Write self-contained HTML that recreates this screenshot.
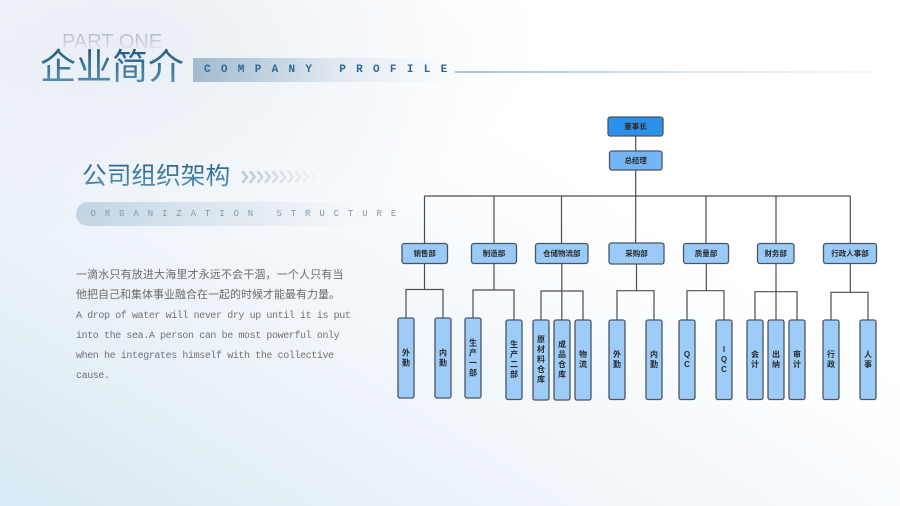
<!DOCTYPE html>
<html><head><meta charset="utf-8">
<style>
html,body{margin:0;padding:0;}
body{width:900px;height:506px;overflow:hidden;position:relative;font-family:"Liberation Sans","Noto Sans CJK SC",sans-serif;
background:linear-gradient(32deg,#d9e8f3 0%,#eaf2f8 25%,#f7fafd 48%,#ffffff 65%,#ffffff 100%);}
.abs{position:absolute;white-space:nowrap;}
#tl{position:absolute;left:0;top:0;width:900px;height:506px;background:radial-gradient(ellipse 420px 200px at 120px 40px,rgba(228,235,242,0.8),rgba(255,255,255,0) 100%);}
.streak{position:absolute;width:60px;height:700px;background:linear-gradient(to right,rgba(255,255,255,0),rgba(255,255,255,0.55),rgba(255,255,255,0));transform:rotate(-40deg);}
.grad{background:linear-gradient(to bottom,#1f5a85,#5990b6);-webkit-background-clip:text;background-clip:text;color:transparent;}
</style></head><body>
<div id="tl"></div>
<div class="streak" style="left:520px;top:-250px;"></div>
<div class="streak" style="left:600px;top:-260px;width:40px;"></div>

<div class="abs" style="left:62px;top:32px;font-size:20px;line-height:20px;font-family:'Liberation Sans',sans-serif;background:linear-gradient(to bottom,#b4bbc4 0%,#ccd2d9 55%,rgba(235,239,243,0.3) 100%);-webkit-background-clip:text;background-clip:text;color:transparent;">PART ONE</div>

<div class="abs grad" style="left:40px;top:48px;font-size:36px;line-height:37px;font-family:'Liberation Sans','Noto Sans CJK SC',sans-serif;">企业简介</div>

<div class="abs" style="left:193px;top:58px;width:270px;height:24px;background:linear-gradient(to right,#a2bbcf 0%,#c4d4e1 30%,#e2eaf1 55%,rgba(240,244,248,0.6) 80%,rgba(255,255,255,0) 100%);"></div>
<div class="abs" style="left:204px;top:64px;font-family:'Liberation Mono',monospace;font-size:11px;line-height:12px;letter-spacing:10.3px;color:#2a6896;font-weight:bold;">COMPANY PROFILE</div>
<div class="abs" style="left:455px;top:71px;width:418px;height:2px;background:linear-gradient(to right,#a9c3d6,#d5e2ec 50%,rgba(230,238,244,0.3));"></div>

<div class="abs grad" style="left:82px;top:163.5px;font-size:24.7px;line-height:25px;font-family:'Liberation Sans','Noto Sans CJK SC',sans-serif;background:linear-gradient(to bottom,#2a6690,#5d94ba);-webkit-background-clip:text;background-clip:text;">公司组织架构</div>

<svg class="abs" style="left:240px;top:168px;" width="90" height="18">
<g fill="none" stroke-width="2.6" stroke-linecap="round" stroke-linejoin="round">
<polyline points="3,4 7,9 3,14" stroke="#b9cbd9"/>
<polyline points="10.6,4 14.6,9 10.6,14" stroke="#bfcfdc"/>
<polyline points="18.2,4 22.2,9 18.2,14" stroke="#c6d4e0"/>
<polyline points="25.8,4 29.8,9 25.8,14" stroke="#ccd9e3"/>
<polyline points="33.4,4 37.4,9 33.4,14" stroke="#d3dee7"/>
<polyline points="41,4 45,9 41,14" stroke="#d9e2ea"/>
<polyline points="48.6,4 52.6,9 48.6,14" stroke="#dfe7ee"/>
<polyline points="56.2,4 60.2,9 56.2,14" stroke="#e5ebf1"/>
<polyline points="63.8,4 67.8,9 63.8,14" stroke="#eaeff4"/>
<polyline points="71.4,4 75.4,9 71.4,14" stroke="#eff3f7"/>
</g></svg>

<div class="abs" style="left:76px;top:202px;width:330px;height:24px;border-radius:12px 0 0 12px;background:linear-gradient(to right,#c2d4e2 0%,#d6e2ec 30%,#e7eef4 60%,rgba(245,248,251,0.5) 85%,rgba(255,255,255,0) 100%);"></div>
<div class="abs" style="left:90.5px;top:209px;font-family:'Liberation Mono',monospace;font-size:9px;line-height:10px;letter-spacing:8.9px;color:#7f98ac;">ORGANIZATION STRUCTURE</div>

<div class="abs" style="left:76px;top:265px;font-size:11px;line-height:20px;letter-spacing:0.15px;color:#6a6a6a;font-family:'Liberation Sans','Noto Sans CJK SC',sans-serif;">一滴水只有放进大海里才永远不会干涸，一个人只有当</div>
<div class="abs" style="left:76px;top:285px;font-size:11px;line-height:20px;letter-spacing:0px;color:#6a6a6a;font-family:'Liberation Sans','Noto Sans CJK SC',sans-serif;">他把自己和集体事业融合在一起的时候才能最有力量。</div>
<div class="abs" style="left:76px;top:306.5px;font-family:'Liberation Mono',monospace;font-size:10px;line-height:20.3px;letter-spacing:-0.4px;color:#727272;">A drop of water will never dry up until it is put<br>into the sea.A person can be most powerful only<br>when he integrates himself with the collective<br>cause.</div>

<svg class="abs" style="left:0;top:0;" width="900" height="506" font-family="'Liberation Sans','Noto Sans CJK SC',sans-serif">
<g stroke="#4d4d4d" stroke-width="1.2" fill="none">
<line x1="635.7" y1="136" x2="635.7" y2="151"/>
<line x1="635.7" y1="170" x2="635.7" y2="196"/>
<line x1="424.5" y1="196" x2="850.3" y2="196"/>
<line x1="424.5" y1="196" x2="424.5" y2="243.5"/>
<line x1="494" y1="196" x2="494" y2="243.5"/>
<line x1="561.5" y1="196" x2="561.5" y2="243.5"/>
<line x1="635.7" y1="196" x2="635.7" y2="243"/>
<line x1="706" y1="196" x2="706" y2="243.5"/>
<line x1="776" y1="196" x2="776" y2="243.5"/>
<line x1="850.3" y1="196" x2="850.3" y2="243.5"/>
<polyline points="424.5,263.5 424.5,289.5"/>
<polyline points="406,318 406,289.5 443,289.5 443,318"/>
<polyline points="494,263.5 494,290"/>
<polyline points="473,318 473,290 514,290 514,320"/>
<polyline points="561.8,263.5 561.8,320"/>
<polyline points="541,320 541,291 583,291 583,320"/>
<polyline points="636.5,264 636.5,290.7"/>
<polyline points="617,320 617,290.7 654,290.7 654,320"/>
<polyline points="706.3,263.5 706.3,290.7"/>
<polyline points="687,320 687,290.7 724,290.7 724,320"/>
<polyline points="776,263.5 776,320"/>
<polyline points="755,320 755,291.7 797,291.7 797,320"/>
<polyline points="850.3,263.5 850.3,292.3"/>
<polyline points="831,320 831,292.3 868,292.3 868,320"/>
</g>
<g stroke="#4a5561" stroke-width="1.3">
<rect x="608" y="117" width="55" height="19" rx="2.5" fill="#2a90ea"/>
<rect x="609.5" y="151" width="52.5" height="19" rx="2.5" fill="#74b6f5"/>
<rect x="402" y="243.5" width="45.5" height="20" rx="2.5" fill="#9acaf8"/>
<rect x="471.5" y="243.5" width="45" height="20" rx="2.5" fill="#9acaf8"/>
<rect x="535.5" y="243.5" width="52.5" height="20" rx="2.5" fill="#9acaf8"/>
<rect x="609" y="243" width="55" height="21" rx="2.5" fill="#9acaf8"/>
<rect x="683.5" y="243.5" width="45" height="20" rx="2.5" fill="#9acaf8"/>
<rect x="757.5" y="243.5" width="36.5" height="20" rx="2.5" fill="#9acaf8"/>
<rect x="823.5" y="243.5" width="53" height="20" rx="2.5" fill="#9acaf8"/>
<rect x="398" y="318" width="16" height="80" rx="2" fill="#9dccf8"/>
<rect x="435" y="318" width="16" height="80" rx="2" fill="#9dccf8"/>
<rect x="465" y="318" width="16" height="80" rx="2" fill="#9dccf8"/>
<rect x="506" y="320" width="16" height="79.5" rx="2" fill="#9dccf8"/>
<rect x="533" y="320" width="16" height="80" rx="2" fill="#9dccf8"/>
<rect x="554" y="320" width="16" height="80" rx="2" fill="#9dccf8"/>
<rect x="575" y="320" width="16" height="80" rx="2" fill="#9dccf8"/>
<rect x="609" y="320" width="16" height="79.5" rx="2" fill="#9dccf8"/>
<rect x="646" y="320" width="16" height="79.5" rx="2" fill="#9dccf8"/>
<rect x="679" y="320" width="16" height="79.5" rx="2" fill="#9dccf8"/>
<rect x="716" y="320" width="16" height="79.5" rx="2" fill="#9dccf8"/>
<rect x="747" y="320" width="16" height="79.5" rx="2" fill="#9dccf8"/>
<rect x="768" y="320" width="16" height="79.5" rx="2" fill="#9dccf8"/>
<rect x="789" y="320" width="16" height="79.5" rx="2" fill="#9dccf8"/>
<rect x="823" y="320" width="16" height="79.5" rx="2" fill="#9dccf8"/>
<rect x="860" y="320" width="16" height="79.5" rx="2" fill="#9dccf8"/>
</g>
<g font-size="7.5" font-weight="bold" fill="#2b2b2b" text-anchor="middle" dominant-baseline="central">
<text x="635.5" y="126.5">董事长</text>
<text x="635.7" y="160.5">总经理</text>
<text x="424.7" y="253.5">销售部</text>
<text x="494" y="253.5">制造部</text>
<text x="561.8" y="253.5">仓储物流部</text>
<text x="636.5" y="253.5">采购部</text>
<text x="706" y="253.5">质量部</text>
<text x="775.7" y="253.5">财务部</text>
<text x="850" y="253.5">行政人事部</text>
</g>
<g font-size="8" font-weight="bold" fill="#2b2b2b" text-anchor="middle" dominant-baseline="central">
<text x="406" y="353">外</text><text x="406" y="363">勤</text>
<text x="443" y="353">内</text><text x="443" y="363">勤</text>
<text x="473" y="343">生</text><text x="473" y="353">产</text><text x="473" y="363">一</text><text x="473" y="373">部</text>
<text x="514" y="344.5">生</text><text x="514" y="354.5">产</text><text x="514" y="364.5">二</text><text x="514" y="374.5">部</text>
<text x="541" y="339.5">原</text><text x="541" y="349.5">材</text><text x="541" y="359.5">料</text><text x="541" y="369.5">仓</text><text x="541" y="379.5">库</text>
<text x="562" y="344.5">成</text><text x="562" y="354.5">品</text><text x="562" y="364.5">仓</text><text x="562" y="374.5">库</text>
<text x="583" y="354.5">物</text><text x="583" y="364.5">流</text>
<text x="617" y="354.5">外</text><text x="617" y="364.5">勤</text>
<text x="654" y="354.5">内</text><text x="654" y="364.5">勤</text>
<text x="687" y="354.5">Q</text><text x="687" y="364.5">C</text>
<text x="724" y="349.5">I</text><text x="724" y="359.5">Q</text><text x="724" y="369.5">C</text>
<text x="755" y="354.5">会</text><text x="755" y="364.5">计</text>
<text x="776" y="354.5">出</text><text x="776" y="364.5">纳</text>
<text x="797" y="354.5">审</text><text x="797" y="364.5">计</text>
<text x="831" y="354.5">行</text><text x="831" y="364.5">政</text>
<text x="868" y="354.5">人</text><text x="868" y="364.5">事</text>
</g>
</svg>
</body></html>
